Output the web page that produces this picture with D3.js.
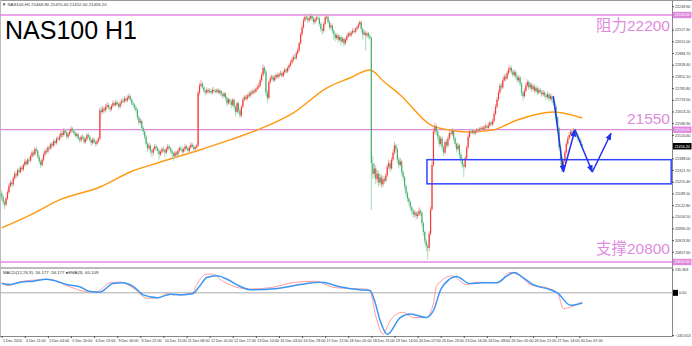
<!DOCTYPE html>
<html><head><meta charset="utf-8">
<script src="https://cdn.jsdelivr.net/npm/d3@7"></script>
<style>body{margin:0;background:#fff;}svg{display:block;font-family:"Liberation Sans",Arial,sans-serif;}</style>
</head><body><svg id="c" width="692" height="346"></svg>
<script>
// ---------- DATA ----------
const firstOpen = 21190;
const closes = [21170,21140,21125,21160,21195,21230,21250,21240,21275,21300,
21290,21320,21310,21335,21325,21350,21370,21355,21380,21375,
21400,21420,21410,21440,21430,21395,21370,21350,21380,21410,
21430,21425,21450,21445,21470,21460,21485,21475,21500,21495,
21510,21530,21520,21545,21535,21510,21525,21540,21555,21545,
21530,21515,21525,21500,21490,21510,21505,21480,21495,21520,
21510,21490,21475,21495,21480,21470,21485,21500,21660,21650,
21670,21660,21680,21690,21675,21665,21685,21700,21690,21705,
21695,21680,21700,21715,21710,21725,21715,21730,21740,21720,
21700,21690,21675,21660,21620,21590,21600,21560,21540,21510,
21470,21445,21460,21430,21420,21440,21455,21445,21430,21410,
21425,21440,21435,21420,21440,21455,21445,21430,21415,21400,
21420,21410,21430,21445,21440,21425,21440,21455,21445,21430,
21450,21465,21455,21440,21450,21460,21760,21800,21810,21790,
21770,21760,21775,21765,21770,21760,21775,21770,21765,21775,
21760,21770,21750,21740,21755,21730,21700,21720,21710,21690,
21720,21680,21650,21700,21660,21630,21680,21720,21735,21725,
21745,21740,21760,21755,21770,21765,21780,21790,21800,21830,
21860,21900,21880,21760,21730,21820,21840,21850,21830,21845,
21860,21850,21865,21870,21855,21875,21890,21880,21900,21915,
21930,21945,21960,21955,21985,22000,22040,22090,22130,22170,
22190,22185,22170,22180,22195,22180,22160,22175,22185,22180,
22150,22120,22110,22150,22185,22190,22160,22130,22140,22110,
22090,22070,22085,22060,22075,22050,22065,22040,22060,22080,
22095,22085,22100,22110,22105,22120,22130,22145,22160,22120,
22090,22100,22085,22095,22080,22070,21360,21300,21330,21270,
21300,21250,21280,21240,21270,21260,21290,21340,21360,21330,
21380,21420,21460,21440,21380,21350,21370,21310,21280,21230,
21190,21160,21140,21110,21090,21070,21080,21060,21070,21090,
21080,21020,20970,20920,20890,20880,20960,21100,21350,21540,
21570,21540,21510,21470,21500,21450,21420,21480,21460,21500,
21530,21525,21545,21500,21470,21440,21460,21410,21380,21350,
21340,21390,21450,21510,21540,21535,21545,21530,21540,21550,
21545,21555,21560,21550,21565,21570,21560,21575,21590,21580,
21600,21640,21680,21720,21760,21800,21790,21830,21850,21840,
21870,21890,21900,21880,21860,21875,21850,21830,21845,21810,
21760,21740,21770,21800,21820,21790,21805,21780,21795,21770,
21785,21760,21775,21765,21750,21760,21745,21735,21750,21725,
21740,21720,21700,21680,21620,21560,21450,21380,21340,21370,
21420,21470,21500,21520,21540,21530,21545,21535,21520,21500,
21490,21466.8,21456.2];
const highs = [21205,21180,21150,21170,21210,21245,21265,21260,21285,21315,
21310,21330,21335,21345,21345,21360,21385,21380,21390,21395,
21410,21435,21430,21450,21455,21440,21405,21380,21390,21420,
21440,21445,21460,21465,21480,21480,21495,21495,21510,21515,
21525,21545,21540,21560,21555,21545,21535,21550,21570,21565,
21555,21540,21535,21530,21510,21520,21525,21515,21505,21530,
21535,21520,21500,21505,21505,21490,21495,21510,21675,21680,
21685,21680,21695,21705,21700,21685,21695,21715,21710,21720,
21715,21705,21710,21725,21730,21740,21735,21745,21755,21750,
21730,21710,21700,21685,21670,21630,21615,21610,21570,21550,
21520,21480,21475,21470,21440,21450,21470,21465,21455,21440,
21435,21450,21455,21445,21450,21470,21465,21455,21440,21425,
21430,21430,21440,21455,21460,21450,21450,21470,21465,21455,
21460,21480,21475,21465,21460,21470,21770,21815,21830,21820,
21800,21780,21790,21785,21785,21780,21790,21790,21780,21785,
21785,21780,21775,21760,21765,21760,21740,21730,21730,21720,
21730,21725,21690,21710,21710,21670,21690,21730,21745,21745,
21755,21760,21770,21775,21780,21785,21790,21805,21815,21845,
21875,21920,21910,21890,21775,21830,21855,21865,21860,21860,
21870,21870,21875,21885,21880,21885,21900,21900,21910,21925,
21945,21960,21975,21975,21995,22015,22050,22100,22145,22185,
22205,22210,22195,22195,22210,22205,22190,22185,22200,22200,
22190,22160,22135,22160,22195,22205,22200,22170,22155,22150,
22120,22100,22095,22095,22085,22085,22075,22075,22070,22090,
22105,22105,22110,22125,22125,22130,22140,22155,22170,22165,
22130,22115,22110,22105,22105,22095,22080,21400,21360,21350,
21320,21315,21300,21295,21290,21285,21305,21355,21380,21375,
21395,21440,21480,21470,21450,21395,21390,21380,21320,21290,
21240,21200,21170,21150,21120,21100,21095,21090,21085,21110,
21100,21090,21030,20980,20930,20905,20975,21115,21370,21560,
21590,21580,21550,21520,21515,21510,21460,21490,21495,21510,
21545,21545,21560,21555,21510,21480,21475,21470,21420,21395,
21365,21400,21460,21525,21550,21555,21555,21555,21550,21560,
21560,21565,21570,21570,21575,21585,21580,21590,21600,21600,
21615,21655,21695,21735,21775,21815,21815,21845,21865,21865,
21885,21905,21915,21910,21890,21890,21885,21860,21860,21855,
21820,21770,21785,21815,21835,21830,21820,21815,21810,21805,
21800,21795,21790,21785,21775,21775,21770,21755,21765,21760,
21755,21750,21730,21715,21690,21630,21570,21460,21395,21385,
21435,21485,21515,21535,21555,21550,21560,21555,21545,21530,
21510,21500,21470.4];
const lows = [21150,21120,21100,21115,21150,21185,21220,21225,21230,21265,
21275,21280,21300,21300,21315,21315,21340,21345,21350,21365,
21365,21390,21395,21400,21420,21385,21355,21335,21340,21370,
21400,21410,21415,21435,21435,21450,21450,21465,21465,21485,
21485,21500,21505,21510,21525,21495,21500,21515,21530,21535,
21520,21505,21505,21490,21475,21480,21495,21470,21470,21485,
21500,21480,21460,21465,21470,21455,21460,21475,21490,21635,
21640,21645,21650,21670,21665,21650,21655,21675,21680,21680,
21685,21665,21670,21690,21700,21700,21705,21705,21720,21710,
21690,21675,21660,21645,21605,21575,21580,21545,21520,21495,
21455,21425,21435,21410,21395,21405,21430,21430,21415,21380,
21400,21415,21420,21395,21410,21430,21435,21415,21390,21375,
21390,21395,21400,21420,21430,21405,21415,21430,21435,21415,
21420,21440,21445,21425,21430,21440,21450,21745,21790,21780,
21760,21745,21750,21755,21755,21750,21750,21760,21755,21755,
21750,21750,21740,21725,21730,21715,21680,21690,21695,21670,
21680,21660,21625,21640,21640,21615,21620,21670,21710,21715,
21715,21730,21730,21745,21745,21755,21755,21770,21780,21790,
21820,21850,21865,21740,21700,21720,21810,21830,21820,21820,
21835,21840,21840,21855,21845,21845,21865,21870,21870,21890,
21905,21920,21935,21945,21945,21975,21990,22030,22080,22120,
22160,22170,22155,22160,22170,22165,22145,22150,22165,22170,
22135,22105,22090,22100,22140,22175,22150,22115,22120,22095,
22060,22050,22060,22040,22050,22025,22040,22020,22030,22050,
22070,22075,22075,22090,22095,22095,22110,22120,22135,22100,
22060,22080,22000,22070,22065,22055,21095,21270,21280,21240,
21250,21225,21235,21220,21225,21240,21250,21280,21325,21310,
21320,21370,21410,21420,21360,21330,21340,21290,21260,21210,
21170,21140,21120,21090,21070,21050,21055,21040,21045,21060,
21060,21000,20950,20900,20860,20812,20860,20950,21090,21340,
21525,21520,21490,21450,21460,21430,21400,21410,21445,21450,
21490,21510,21515,21485,21450,21420,21430,21390,21360,21330,
21280,21330,21380,21440,21500,21525,21525,21520,21520,21530,
21535,21535,21545,21540,21540,21555,21550,21550,21565,21570,
21570,21590,21630,21670,21710,21750,21775,21780,21820,21825,
21830,21860,21875,21865,21845,21850,21835,21815,21820,21795,
21740,21715,21730,21760,21790,21775,21780,21765,21770,21755,
21760,21745,21750,21750,21735,21740,21730,21720,21725,21710,
21715,21705,21685,21660,21600,21540,21430,21340,21310,21320,
21360,21410,21460,21490,21510,21515,21520,21520,21505,21485,
21475,21455,21452];

// moving average (orange) read at sample bars
const maBars = [0,20,40,68,89,110,137,158,177,202,225,241,255,265,276,297,310,322,340,357,382,402];
const maValues = [20993,21067,21152,21225,21310,21367,21435,21492,21548,21645,21786,21843,21888,21820,21747,21577,21548,21537,21548,21605,21650,21616];

// MACD panel lines read at sample bars
const macdBars = [0,4,11,22,33,45,59,66,75,82,91,101,110,114,119,132,135,142,146,153,165,172,186,203,217,231,245,252,255,259,264,269,274,278,285,294,299,301,312,322,329,343,352,359,366,378,385,389,394,402];
const macdValues = [59,42,61,74,79,42,8,8,59,62,28,-32,-28,-2,-12,-2,48,109,109,68,28,22,30,61,67,30,24,22,12,-133,-240,-163,-121,-113,-144,-144,-61,38,99,48,62,59,119,99,48,28,-2,-93,-83,-53];
const signalBars = [0,6,13,22,31,38,45,54,61,68,77,84,91,98,108,117,124,132,137,142,149,156,165,172,189,207,221,234,248,255,258,262,267,276,283,294,299,304,310,315,324,333,343,350,355,361,368,380,385,394,402];
const signalValues = [54,48,62,68,79,68,48,35,8,4,54,59,38,-12,-28,-8,-12,-6,38,89,99,79,38,18,24,48,61,36,18,14,-40,-160,-242,-144,-123,-144,-103,18,79,95,54,59,59,99,119,89,48,18,-2,-73,-59];

const levels = [22200, 21550, 20800];
const levelTexts = ["阻力22200", "21550", "支撑20800"];
const priceTicks = [22249.90,22183.60,22117.30,22051.00,21984.70,21918.40,21852.10,21785.80,21719.50,21653.20,21586.90,21520.60,21454.30,21388.00,21321.70,21255.40,21189.10,21122.80,21056.50,20990.20,20923.90,20857.60,20791.30];
const timeLabels = ["1 Dec 2024","4 Dec 11:00","5 Dec 04:00","5 Dec 20:00","6 Dec 13:00","9 Dec 06:00","9 Dec 22:00","10 Dec 15:00","11 Dec 08:00","12 Dec 01:00","12 Dec 17:00","13 Dec 10:00","16 Dec 03:00","16 Dec 19:00","17 Dec 12:00","18 Dec 05:00","18 Dec 21:00","19 Dec 14:00","20 Dec 07:00","20 Dec 23:00","23 Dec 16:00","24 Dec 09:00","26 Dec 05:00","26 Dec 21:00","27 Dec 14:00","30 Dec 07:00"];
const macdMax = 135.903, macdMin = -245.653;
// drawn W pattern and box (bar index / price)
const wBars = [382, 389, 397, 409, 422];
const wPrices = [21740, 21310, 21550, 21310, 21530];
const zoneStartBar = 294.5;
const zonePrices = [21380, 21243];
const header = "▼ NAS100,H1  21466.80 21470.40 21452.00 21456.20";
const macdHeader = "MACD(12,26,9) -56.177 -56.177 ●EMA(9) -60.109";

// ---------- DRAW ----------
const W = 692, H = 346, plotR = 672;
const mainTop = 1, mainBot = 267, macdTop = 269, macdBot = 336;
const FS = 3.7;
const svg = d3.select('#c');
svg.append('rect').attr('width', W).attr('height', H).attr('fill', '#fff');

const x = d3.scaleLinear().domain([0, 402]).range([1.7, 582.2]);
const y = d3.scaleLinear().domain([20800, 22200]).range([262, 15]);
const ym = d3.scaleLinear().domain([macdMin, macdMax]).range([335, 269.5]);

const defs = svg.append('defs');
defs.append('clipPath').attr('id', 'cm').append('rect').attr('x', 0).attr('y', mainTop).attr('width', plotR).attr('height', mainBot - mainTop);
defs.append('clipPath').attr('id', 'cd').append('rect').attr('x', 0).attr('y', macdTop).attr('width', plotR).attr('height', macdBot - macdTop);
defs.append('marker').attr('id', 'arr').attr('viewBox', '0 0 10 10').attr('refX', 9).attr('refY', 5)
  .attr('markerWidth', 5).attr('markerHeight', 5).attr('orient', 'auto')
  .append('path').attr('d', 'M0,1 L10,5 L0,9 Z').attr('fill', '#2233ee');

// frame
svg.append('line').attr('x1', 0).attr('x2', W).attr('y1', 0.5).attr('y2', 0.5).attr('stroke', '#999');
svg.append('line').attr('x1', 0.5).attr('x2', 0.5).attr('y1', 0).attr('y2', macdBot).attr('stroke', '#bbb');
svg.append('rect').attr('x', 0).attr('y', 267).attr('width', plotR).attr('height', 2).attr('fill', '#bbb');

const main = svg.append('g').attr('clip-path', 'url(#cm)');

// level lines
main.selectAll('.lvl').data(levels).join('line')
  .attr('x1', 0).attr('x2', plotR).attr('y1', d => y(d)).attr('y2', d => y(d))
  .attr('stroke', '#e088e0').attr('stroke-width', 1.3);

// MA line
const maPts = maBars.map((b, i) => [b, maValues[i]]);
main.append('path').datum(maPts)
  .attr('d', d3.line().x(d => x(d[0])).y(d => y(d[1])).curve(d3.curveMonotoneX))
  .attr('fill', 'none').attr('stroke', '#ff9a10').attr('stroke-width', 1.4);

// candles
const bars = closes.map((c, i) => ({ i, o: i ? closes[i - 1] : firstOpen, h: highs[i], l: lows[i], c }));
const cg = main.append('g');
cg.selectAll('.wick').data(bars).join('line')
  .attr('x1', d => x(d.i)).attr('x2', d => x(d.i))
  .attr('y1', d => y(d.h)).attr('y2', d => y(d.l))
  .attr('stroke', d => d.c >= d.o ? '#f7a0a0' : '#a6dcbc').attr('stroke-width', 1);
cg.selectAll('.body').data(bars).join('rect')
  .attr('x', d => x(d.i) - 0.6).attr('width', 1.2)
  .attr('y', d => y(Math.max(d.o, d.c)))
  .attr('height', d => Math.max(1, Math.abs(y(d.o) - y(d.c))))
  .attr('fill', d => d.c >= d.o ? '#f43a3a' : '#46b070');

// zone rectangle
main.append('rect')
  .attr('x', x(zoneStartBar)).attr('y', y(zonePrices[0]))
  .attr('width', plotR - 0.8 - x(zoneStartBar)).attr('height', y(zonePrices[1]) - y(zonePrices[0]))
  .attr('fill', 'none').attr('stroke', '#3344ff').attr('stroke-width', 1.5);

// W arrows
for (let k = 0; k < wBars.length - 1; k++) {
  main.append('line')
    .attr('x1', x(wBars[k])).attr('y1', y(wPrices[k]))
    .attr('x2', x(wBars[k + 1])).attr('y2', y(wPrices[k + 1]))
    .attr('stroke', '#2233ee').attr('stroke-width', 1.5).attr('marker-end', 'url(#arr)');
}

// level labels
svg.selectAll('.lt').data(levels).join('text')
  .attr('x', 670).attr('y', (d, i) => y(d) + [16, -6, -8][i])
  .attr('text-anchor', 'end').attr('font-size', 15.5)
  .attr('font-family', '"Liberation Sans","Noto Sans CJK SC",sans-serif')
  .attr('fill', '#e08be0').text((d, i) => levelTexts[i]);

// title & header
svg.append('text').attr('x', 5).attr('y', 39).attr('font-size', 25).attr('fill', '#000').text('NAS100 H1');
svg.append('text').attr('x', 2).attr('y', 5.5).attr('font-size', 4.3).attr('fill', '#333').text(header);

// MACD panel
const md = svg.append('g').attr('clip-path', 'url(#cd)');
md.append('line').attr('x1', 0).attr('x2', plotR).attr('y1', ym(0)).attr('y2', ym(0)).attr('stroke', '#aaa');
const mline = d3.line().x(d => x(d[0])).y(d => ym(d[1])).curve(d3.curveMonotoneX);
md.append('path').datum(macdBars.map((b, i) => [b, macdValues[i]]))
  .attr('d', mline).attr('fill', 'none').attr('stroke', '#ff9c9c').attr('stroke-width', 1);
md.append('path').datum(signalBars.map((b, i) => [b, signalValues[i]]))
  .attr('d', mline).attr('fill', 'none').attr('stroke', '#3a96f5').attr('stroke-width', 1.5);
svg.append('text').attr('x', 3).attr('y', 274).attr('font-size', 4.3).attr('fill', '#333').text(macdHeader);

// right price axis
svg.append('line').attr('x1', plotR + 0.5).attr('x2', plotR + 0.5).attr('y1', 0).attr('y2', macdBot + 1).attr('stroke', '#888');
const curPrice = closes[closes.length - 1];
const special = levels.concat([curPrice]);
const shownTicks = priceTicks.filter(t => special.every(s => Math.abs(y(t) - y(s)) > 5));
const ax = d3.axisRight(y).tickValues(shownTicks).tickSize(2).tickFormat(d3.format('.2f'));
const axg = svg.append('g').attr('transform', `translate(${plotR},0)`).call(ax);
axg.select('.domain').remove();
axg.selectAll('line').attr('stroke', '#555');
axg.selectAll('text').attr('font-size', FS).attr('fill', '#333').attr('x', 3);

function boxLabel(yy, txt, fill) {
  svg.append('rect').attr('x', plotR + 1).attr('y', yy - 3.2).attr('width', 18.5).attr('height', 6.4).attr('fill', fill);
  svg.append('text').attr('x', plotR + 2.5).attr('y', yy + 1.4).attr('font-size', FS).attr('fill', '#fff').text(txt);
}
levels.forEach(l => boxLabel(y(l), d3.format('.2f')(l), '#e088e0'));
boxLabel(y(curPrice), d3.format('.2f')(curPrice), '#000');

// macd axis labels
const mAx = d3.axisRight(ym).tickValues([macdMax, macdMin]).tickSize(2).tickFormat(d3.format('.3f'));
const mg = svg.append('g').attr('transform', `translate(${plotR},0)`).call(mAx);
mg.select('.domain').remove();
mg.selectAll('line').attr('stroke', '#555');
mg.selectAll('text').attr('font-size', FS).attr('fill', '#333').attr('x', 3);
svg.append('rect').attr('x', plotR + 1).attr('y', ym(0) - 3).attr('width', 5).attr('height', 6).attr('fill', '#000');
svg.append('text').attr('x', plotR + 7).attr('y', ym(0) + 1.4).attr('font-size', FS).attr('fill', '#333').text('0.00');

// bottom time axis
svg.append('line').attr('x1', 0).attr('x2', plotR).attr('y1', macdBot + 0.5).attr('y2', macdBot + 0.5).attr('stroke', '#888');
const tAx = d3.axisBottom(x).tickValues(timeLabels.map((t, i) => i * 16)).tickSize(2).tickFormat((d, i) => timeLabels[i]);
const tg = svg.append('g').attr('transform', `translate(0,${macdBot})`).call(tAx);
tg.select('.domain').remove();
tg.selectAll('line').attr('stroke', '#555');
tg.selectAll('text').attr('font-size', FS).attr('fill', '#333').attr('text-anchor', 'start').attr('dx', 0.8).attr('y', 3);
</script></body></html>
